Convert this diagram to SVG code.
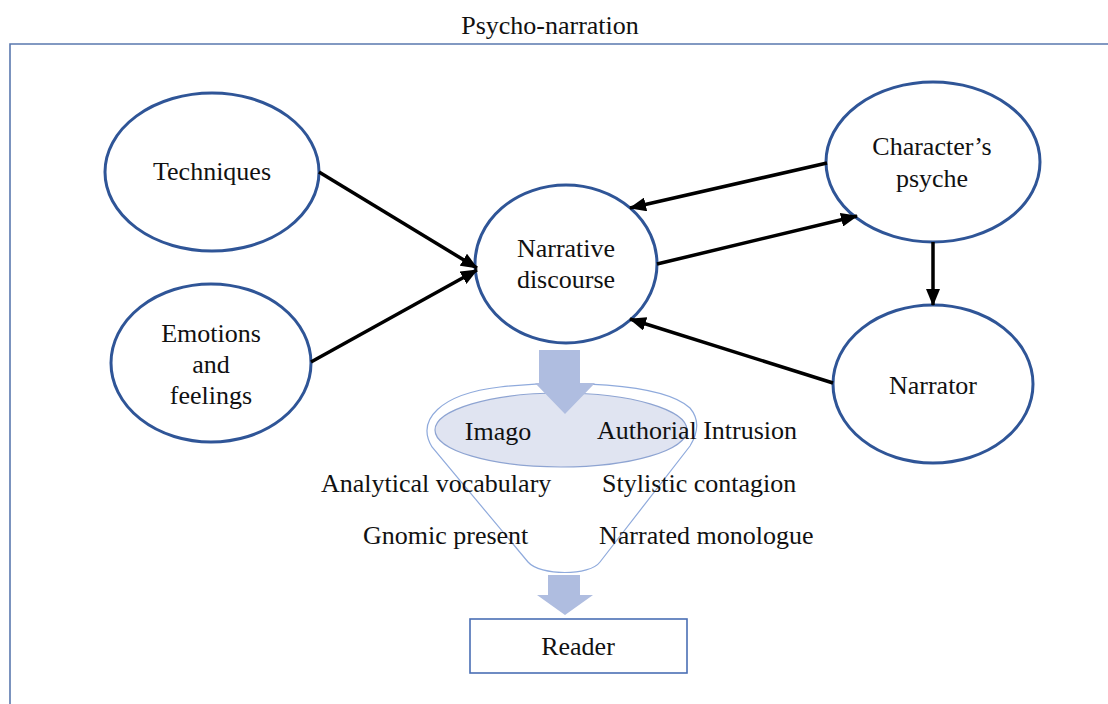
<svg xmlns="http://www.w3.org/2000/svg" width="1108" height="704" viewBox="0 0 1108 704">
<defs>
<marker id="ah" markerUnits="userSpaceOnUse" markerWidth="18" markerHeight="14" refX="16" refY="7" orient="auto">
<path d="M0,0 L17,7 L0,14 Z" fill="#000"/>
</marker>
<style>
.node{fill:#fff;stroke:#2f5597;stroke-width:3}
.t{font-family:"Liberation Serif","Times New Roman",serif;font-size:26px;fill:#111}
.c{text-anchor:middle}
.conn line{stroke:#000;stroke-width:3.5;marker-end:url(#ah)}
.blk{fill:#afbde0}
</style>
</defs>
<rect width="1108" height="704" fill="#fff"/>
<g id="frame">
<path d="M10,704 V44 H1108" fill="none" stroke="#5a78ae" stroke-width="1.6"/>
<text class="t c" x="550" y="34">Psycho-narration</text>
</g>
<g id="techniques"><ellipse class="node" cx="212" cy="172" rx="107" ry="79"/><text class="t c" x="212" y="180">Techniques</text></g>
<g id="emotions"><ellipse class="node" cx="211" cy="363" rx="100" ry="79"/><text class="t c" x="211" y="342">Emotions</text><text class="t c" x="211" y="373">and</text><text class="t c" x="211" y="404">feelings</text></g>
<g id="narrative"><ellipse class="node" cx="566" cy="264" rx="91" ry="79"/><text class="t c" x="566" y="257">Narrative</text><text class="t c" x="566" y="288">discourse</text></g>
<g id="psyche"><ellipse class="node" cx="933" cy="162" rx="107" ry="80"/><text class="t c" x="932" y="155">Character’s</text><text class="t c" x="932" y="187">psyche</text></g>
<g id="narrator"><ellipse class="node" cx="933" cy="384" rx="100" ry="79"/><text class="t c" x="933" y="394">Narrator</text></g>
<g id="connectors" class="conn">
<line x1="319" y1="172" x2="477" y2="268"/>
<line x1="311" y1="362" x2="477" y2="270"/>
<line x1="827" y1="163" x2="630" y2="208"/>
<line x1="657" y1="264" x2="857" y2="216"/>
<line x1="933" y1="242" x2="933" y2="305"/>
<line x1="833" y1="383" x2="630" y2="319"/>
</g>
<g id="funnel">
<path d="M432,447 C416,420 440,394 500,387 C560,380 662,382 690,408 C700,420 698,433 690,446 L600,562 C590,576 540,576 528,562 Z" fill="#fff" stroke="#8faadc" stroke-width="1.2"/>
<ellipse cx="561" cy="430" rx="126" ry="37" fill="#e0e4f1" stroke="#8ea4d2" stroke-width="1.2"/>
<path class="blk" d="M539,350 H580 V383 H595 L565,414 L535,383 H539 Z"/>
<text class="t c" x="498" y="440">Imago</text>
<text class="t" x="597" y="439">Authorial Intrusion</text>
<text class="t" x="321" y="492">Analytical vocabulary</text>
<text class="t" x="602" y="492">Stylistic contagion</text>
<text class="t" x="363" y="544">Gnomic present</text>
<text class="t" x="599" y="544">Narrated monologue</text>
<path class="blk" d="M548,575 H580 V595 H593 L565,615 L537,595 H548 Z"/>
</g>
<g id="reader"><rect x="470" y="619" width="217" height="54" fill="#fff" stroke="#4a6fb5" stroke-width="1.6"/><text class="t c" x="578" y="655">Reader</text></g>
</svg>
